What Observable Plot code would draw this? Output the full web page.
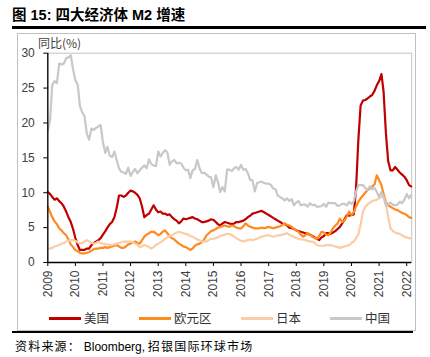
<!DOCTYPE html>
<html><head><meta charset="utf-8">
<script src="https://cdn.jsdelivr.net/npm/d3@7"></script>
<script src="https://cdn.jsdelivr.net/npm/@observablehq/plot@0.6"></script>
<style>
body{margin:0;background:#fff;}
#wrap{position:relative;width:430px;height:357px;overflow:hidden;font-family:"Liberation Sans",Arial,"Noto Sans CJK SC",sans-serif;}
#wrap svg{position:absolute;left:0;top:0;}
.ov{position:absolute;}
#title{left:12px;top:3px;font:bold 14.5px "Liberation Sans","Noto Sans CJK SC",sans-serif;color:#000;white-space:nowrap;}
#rule1{left:12px;top:26px;width:414px;height:2.5px;background:#000;}
#box{left:17px;top:33px;width:397px;height:296px;border:1px solid #c0c0c0;}
#rule2{left:12px;top:331px;width:401px;height:2px;background:#000;}
#ylab{left:38px;top:34px;font-size:12px;color:#404040;white-space:nowrap;font-family:"Noto Sans CJK SC","Liberation Sans",sans-serif;}
#source{left:15px;top:337px;font-size:12px;color:#000;white-space:nowrap;font-family:"Noto Sans CJK SC","Liberation Sans",sans-serif;}
#source .cj{letter-spacing:1.2px;}
.lg{position:absolute;top:310px;height:16px;font-size:12.5px;color:#333;font-family:"Noto Sans CJK SC",sans-serif;line-height:16px;white-space:nowrap;}
.lg i{display:inline-block;width:32px;height:2.5px;vertical-align:middle;margin-right:3px;position:relative;top:-1px;}
</style></head><body>
<div id="wrap"></div>
<script>
const seriesNames = ["美国", "欧元区", "日本", "中国"];
const seriesColors = ["#c00000", "#ff8a1e", "#fbcca8", "#c8c8c8"];
const yTicks = [0, 5, 10, 15, 20, 25, 30];
const xTickYears = [2009,2010,2011,2012,2013,2014,2015,2016,2017,2018,2019,2020,2021,2022];
// monthly values, Jan 2009 .. Mar 2022
const usM2 = [
 10.1,9.8,9.4,9.0,9.2,8.8,8.5,8.0,7.3,6.5,5.8,4.8,
 3.5,2.5,1.8,1.8,1.8,2.0,2.0,2.5,2.8,3.0,3.2,3.5,
 4.0,4.5,5.0,5.5,5.8,6.5,7.8,9.6,9.6,9.4,9.6,10.0,
 10.3,10.2,10.0,9.7,9.2,8.0,6.5,6.8,7.0,7.6,8.2,7.6,
 7.2,7.3,7.0,7.0,6.8,6.9,6.5,6.2,6.0,5.6,5.9,6.3,
 6.2,6.3,6.4,6.5,6.3,6.2,6.0,5.8,5.8,5.9,6.0,6.2,
 6.1,5.8,5.5,5.3,5.6,5.8,5.7,5.6,5.5,5.6,5.8,5.8,
 5.9,6.0,6.2,6.5,6.7,7.0,7.1,7.2,7.3,7.4,7.2,7.0,
 6.8,6.6,6.4,6.2,6.0,5.8,5.6,5.5,5.3,5.0,4.9,4.8,
 4.6,4.5,4.4,4.3,4.2,4.1,4.0,3.8,3.6,3.4,3.2,3.6,
 3.8,4.2,4.2,4.1,4.3,4.5,4.8,5.1,5.6,6.2,6.8,6.7,
 6.8,6.9,10.5,17.5,22.5,23.2,23.3,23.5,23.8,24.0,24.6,25.4,
 26.0,27.0,24.5,18.5,14.5,13.2,13.2,13.7,13.3,12.9,12.6,12.3,
 11.8,11.1,10.9
];
const euroM2 = [
 8.0,7.2,6.5,5.9,5.5,4.9,4.6,4.2,3.9,3.3,2.6,2.2,
 1.8,1.6,1.4,1.3,1.3,1.4,1.5,1.7,1.9,2.0,2.0,2.1,
 2.1,2.2,2.1,2.2,2.3,2.4,2.5,2.3,2.1,2.1,2.3,2.6,
 2.7,2.9,3.0,2.8,2.7,3.2,3.7,4.0,4.2,4.4,4.4,4.2,
 3.9,4.1,4.4,4.6,4.2,3.7,3.5,3.3,3.0,2.7,2.5,2.3,
 2.2,2.0,1.8,2.0,2.4,2.6,2.7,2.9,3.3,3.9,4.2,4.5,
 4.6,4.8,5.0,5.1,5.2,5.3,5.2,5.1,5.3,5.2,5.0,4.9,
 4.9,5.2,5.6,5.3,5.1,5.0,4.9,4.9,4.9,5.0,4.9,5.0,
 5.1,5.0,4.9,5.0,5.1,5.2,5.4,5.6,5.4,5.3,5.1,4.8,
 4.6,4.4,4.0,3.7,3.9,4.2,4.0,3.7,3.5,3.4,3.8,4.4,
 4.3,4.0,3.9,4.3,4.9,5.3,5.6,6.3,5.8,6.0,6.6,7.3,
 6.8,7.2,8.0,8.7,9.2,9.6,10.0,10.4,10.6,10.9,11.2,12.5,
 11.8,11.1,9.8,8.7,8.2,8.0,7.8,7.6,7.5,7.3,7.1,7.0,
 6.8,6.5,6.4
];
const japanM2 = [
 2.0,2.0,2.1,2.3,2.4,2.5,2.7,2.8,3.0,3.1,3.2,3.2,
 3.1,2.9,2.7,2.8,3.0,3.2,3.0,2.8,2.7,2.8,3.0,2.8,
 2.7,2.6,2.6,2.5,2.5,2.6,2.7,2.8,2.9,3.0,3.0,3.0,
 3.0,2.9,2.7,2.5,2.2,2.3,2.5,2.4,2.2,2.0,2.2,2.5,
 2.7,2.9,3.1,3.4,3.6,3.8,3.9,4.1,4.3,4.4,4.3,4.2,
 4.1,4.0,3.8,3.7,3.5,3.3,3.2,3.0,3.0,3.0,3.2,3.4,
 3.4,3.5,3.6,3.8,3.9,4.0,4.1,4.1,3.9,3.7,3.5,3.3,
 3.1,3.0,3.1,3.2,3.3,3.2,3.3,3.4,3.6,3.7,3.8,3.9,
 3.9,3.8,3.7,3.8,3.9,3.9,4.0,4.1,4.2,4.0,3.8,3.7,
 3.5,3.4,3.3,3.3,3.2,3.1,3.0,3.0,2.8,2.5,2.4,2.4,
 2.4,2.5,2.5,2.5,2.4,2.3,2.2,2.1,2.2,2.3,2.4,2.5,
 2.8,3.0,3.5,4.0,5.4,7.3,8.0,8.3,8.6,8.8,8.9,9.0,
 9.2,9.4,9.4,8.5,6.5,4.9,4.5,4.3,4.2,4.1,3.9,3.7,
 3.6,3.5,3.4
];
const chinaM2 = [
 18.8,20.5,25.5,26.0,25.7,28.5,28.4,28.5,29.3,29.4,29.7,27.7,
 26.1,25.5,22.5,21.5,21.0,18.5,17.6,19.2,19.0,19.3,19.5,19.7,
 17.2,15.7,16.6,15.3,15.1,15.9,14.7,13.5,13.0,12.9,12.7,13.6,
 12.4,13.0,13.4,12.8,13.2,13.6,13.9,13.5,14.8,14.1,13.9,13.8,
 15.9,15.2,15.7,16.1,15.8,14.0,14.5,14.7,14.2,14.3,14.2,13.6,
 13.2,13.3,12.1,13.2,13.4,14.7,13.5,12.8,12.9,12.6,12.3,12.2,
 10.8,12.5,11.6,10.1,10.8,10.2,13.3,13.3,13.1,13.5,13.7,13.3,
 14.0,13.3,13.4,12.8,11.8,11.8,10.2,11.4,11.5,11.6,11.4,11.3,
 11.3,11.1,10.6,10.5,9.6,9.4,9.2,8.9,9.2,8.8,9.1,8.2,
 8.6,8.8,8.2,8.3,8.3,8.0,8.5,8.2,8.3,8.0,8.0,8.1,
 8.4,8.0,8.6,8.5,8.5,8.5,8.1,8.2,8.4,8.4,8.2,8.7,
 8.4,8.8,10.1,11.1,11.1,11.1,10.7,10.4,10.9,10.5,10.7,10.1,
 9.4,10.1,9.4,8.1,8.3,8.6,8.3,8.2,8.3,8.7,8.5,9.0,
 9.8,9.2,9.7
];
const seriesValues = [usM2, euroM2, japanM2, chinaM2];

const monthDate = i => new Date(Date.UTC(2009, i, 1));
const xStart = new Date(Date.UTC(2009, 0, 1));
const xEnd = new Date(Date.UTC(2022, 2, 8));
const xTicks = xTickYears.map(y => new Date(Date.UTC(y, 0, 1)));

const lineMarks = seriesValues.map((vals, k) =>
  Plot.lineY(vals.map((v, i) => ({date: monthDate(i), value: v})),
    {x: "date", y: "value", stroke: seriesColors[k], strokeWidth: 2.2, strokeLinejoin: "round"})
);

const chart = Plot.plot({
  width: 430, height: 357,
  marginLeft: 47.3, marginRight: 18.8, marginTop: 52.7, marginBottom: 95,
  style: {fontFamily: "Liberation Sans, Arial, sans-serif", fontSize: "12px", background: "transparent", overflow: "visible"},
  x: {type: "utc", domain: [xStart, xEnd], axis: null},
  y: {domain: [0, 30], axis: null},
  marks: [
    Plot.frame({stroke: "#c4c4c4"}),
    ...lineMarks,
    Plot.ruleY([0], {stroke: "black", strokeWidth: 1.3}),
    Plot.ruleX([xStart], {stroke: "black", strokeWidth: 1.3}),
    Plot.axisY({ticks: yTicks, tickSize: 4, tickPadding: 9, stroke: "black", fill: "#404040", label: null}),
    Plot.axisX({ticks: xTicks, tickSize: 4, tickPadding: 4, tickRotate: -90, tickFormat: d3.utcFormat("%Y"), stroke: "black", fill: "#404040", label: null})
  ]
});
const wrap = document.getElementById("wrap");
wrap.appendChild(chart);

function ov(id, html) {
  const d = document.createElement("div");
  d.className = "ov"; d.id = id; if (html) d.innerHTML = html;
  wrap.appendChild(d);
}
ov("title", "图 15: 四大经济体 M2 增速");
ov("rule1");
ov("box");
ov("rule2");
ov("ylab", "同比(%)");
ov("source", "<span class=\"cj\">资料来源：</span>&nbsp;<span style=\"font-family:'Liberation Sans',Arial,sans-serif\">Bloomberg,</span> <span class=\"cj\">招银国际环球市场</span>");
const legendX = [49, 139, 241, 330];
seriesNames.forEach((name, k) => {
  const d = document.createElement("div");
  d.className = "lg";
  d.style.left = legendX[k] + "px";
  d.innerHTML = `<i style="background:${seriesColors[k]}"></i>${name}`;
  wrap.appendChild(d);
});
</script>
</body></html>
